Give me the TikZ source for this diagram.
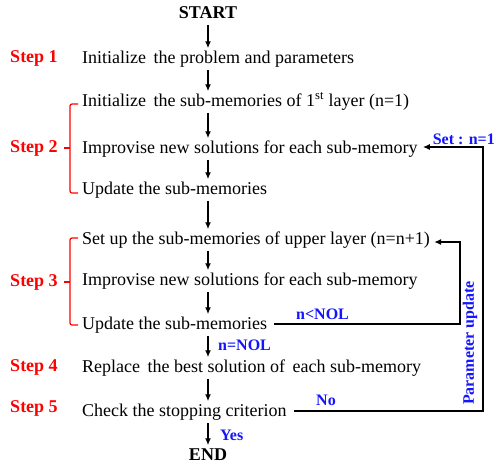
\documentclass[tikz,border=0pt]{standalone}
\usepackage{fontspec}
\setmainfont{Liberation Serif}
\usetikzlibrary{arrows.meta}
\definecolor{stepred}{RGB}{255,0,0}
\definecolor{lblblue}{RGB}{20,20,255}
\tikzset{
  rowtext/.style={anchor=west,inner sep=0pt,text height=12.6pt,text depth=4.5pt,font=\fontsize{18}{20}\selectfont},
  termtext/.style={inner sep=0pt,text height=12.6pt,text depth=4.5pt,font=\fontsize{18}{20}\selectfont\bfseries},
  steplbl/.style={inner sep=0pt,text=stepred,font=\fontsize{18}{20}\selectfont\bfseries},
  bluelbl/.style={anchor=west,inner sep=0pt,text=lblblue,font=\fontsize{16}{18}\selectfont\bfseries},
  flow/.style={line width=1.4pt,-{Latex[length=7pt,width=6pt]},shorten <=2pt,shorten >=2pt},
  loopline/.style={line width=1.4pt,-{Latex[length=7pt,width=6pt]}},
  bracket/.style={stepred,line width=1.2pt,rounded corners=2pt}
}
\begin{document}
\begin{tikzpicture}[x=1pt,y=-1pt]
\useasboundingbox (0,0) rectangle (496,464);
% terminals
\node[termtext] (start) at (208,14) {START};
\node[termtext] (end) at (208,456) {END};
% rows
\node[rowtext] (r1) at (82,59) {Initialize\hspace{3pt} the problem and parameters};
\node[rowtext] (r2) at (82,102) {Initialize\hspace{3pt} the sub-memories of 1\textsuperscript{st} layer (n=1)};
\node[rowtext] (r3) at (82,149) {Improvise new solutions for each sub-memory};
\node[rowtext] (r4) at (82,190) {Update the sub-memories};
\node[rowtext] (r5) at (82,240) {Set up the sub-memories of upper layer (n=n+1)};
\node[rowtext] (r6) at (82,281) {Improvise new solutions for each sub-memory};
\node[rowtext] (r7) at (82,325) {Update the sub-memories};
\node[rowtext] (r8) at (82,368) {Replace\hspace{3pt} the best solution of\hspace{3pt} each sub-memory};
\node[rowtext] (r9) at (82,412) {Check the stopping criterion};
% step labels
\node[steplbl] (s1) at (34,58) {Step 1};
\node[steplbl] (s2) at (34,148) {Step 2};
\node[steplbl] (s3) at (34,282) {Step 3};
\node[steplbl] (s4) at (34,367) {Step 4};
\node[steplbl] (s5) at (34,408) {Step 5};
% brackets
\draw[bracket] (78,104) -- (70,104) -- (70,193) -- (78,193);
\draw[bracket, rounded corners=0pt] (64,148) -- (70,148);
\draw[bracket] (78,238) -- (70,238) -- (70,325) -- (78,325);
\draw[bracket, rounded corners=0pt] (64,282) -- (70,282);
% main flow arrows
\draw[flow] (start.south) -- (r1.north -| start.south);
\draw[flow] (r1.south -| start.south) -- (r2.north -| start.south);
\draw[flow] (r2.south -| start.south) -- (r3.north -| start.south);
\draw[flow] (r3.south -| start.south) -- (r4.north -| start.south);
\draw[flow] (r4.south -| start.south) -- (r5.north -| start.south);
\draw[flow] (r5.south -| start.south) -- (r6.north -| start.south);
\draw[flow] (r6.south -| start.south) -- (r7.north -| start.south);
\draw[flow] (r7.south -| start.south) -- (r8.north -| start.south);
\draw[flow] (r8.south -| start.south) -- (r9.north -| start.south);
\draw[flow] (r9.south -| start.south) -- (end.north);
% loops
\coordinate (outerR) at (483,300);
\coordinate (innerR) at (460,280);
\draw[loopline] ([xshift=7pt,yshift=1pt]r9.east) -| (outerR) |- ([xshift=5pt,yshift=2pt]r3.east);
\draw[loopline] ([xshift=7pt,yshift=1pt]r7.east) -| (innerR) |- ([xshift=4pt,yshift=-2pt]r5.east);
% blue labels
\node[bluelbl, anchor=east] (setn) at (495,139) {Set : n=1};
\node[bluelbl] (nlt) at (296,314) {n<NOL};
\node[bluelbl] (neq) at (218,345) {n=NOL};
\node[bluelbl] (no) at (316,400) {No};
\node[bluelbl] (yes) at (220,435) {Yes};
\node[bluelbl, anchor=center, rotate=90] (pu) at (470,343) {Parameter update};
\end{tikzpicture}
\end{document}
